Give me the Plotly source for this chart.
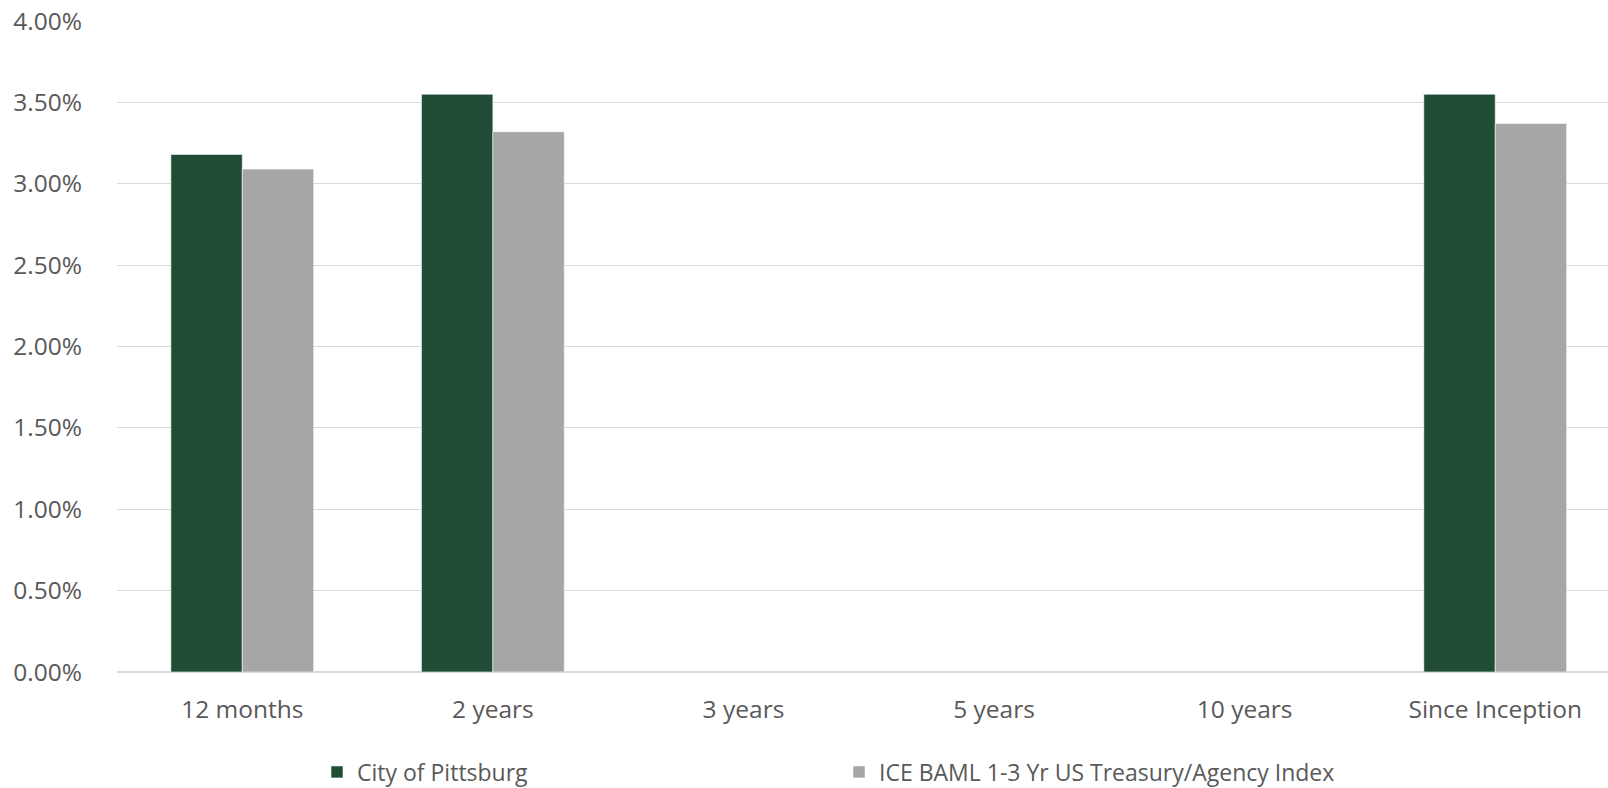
import plotly.graph_objects as go

# Annualized returns by period (percent)
categories = ["12 months", "2 years", "3 years", "5 years", "10 years", "Since Inception"]
city_returns = [3.18, 3.55, None, None, None, 3.55]
index_returns = [3.09, 3.32, None, None, None, 3.37]
y_ticks = [0, 0.5, 1.0, 1.5, 2.0, 2.5, 3.0, 3.5, 4.0]

series_names = ["City of Pittsburg", "ICE BAML 1-3 Yr US Treasury/Agency Index"]
series_colors = ["#214C36", "#A6A6A6"]

W, H = 1608, 788
FONT = "Open Sans"
TEXT = "#595959"

fig = go.Figure()
for name, vals, color in zip(series_names, [city_returns, index_returns], series_colors):
    fig.add_trace(go.Bar(
        x=categories, y=vals, name=name,
        marker=dict(color=color, line=dict(color="rgba(255,255,255,0.7)", width=0.8)),
        hoverinfo="x+y",
    ))

fig.update_layout(
    width=W, height=H,
    margin=dict(l=117, r=0, t=21, b=116),
    paper_bgcolor="white", plot_bgcolor="white",
    barmode="group", bargap=0.43, bargroupgap=0,
    font=dict(family=FONT, size=24, color=TEXT),
    showlegend=True,
    legend=dict(
        orientation="h",
        xref="container", yref="container",
        x=317 / W, y=1 - 772 / H, xanchor="left", yanchor="middle",
        entrywidth=477, entrywidthmode="pixels",
        font=dict(family=FONT, size=23, color=TEXT),
        bgcolor="rgba(0,0,0,0)",
    ),
)

fig.update_xaxes(
    type="category",
    range=[-0.5, 5.45],
    showgrid=False, showline=False, zeroline=False,
    ticks="outside", ticklen=16, tickcolor="rgba(0,0,0,0)",
    tickfont=dict(family=FONT, size=24.5, color=TEXT),
    fixedrange=True,
)
fig.update_yaxes(
    range=[0, 4.0],
    tickvals=y_ticks,
    ticktext=[f"{v:.2f}%" for v in y_ticks],
    showgrid=True, gridcolor="#D9D9D9", gridwidth=1.3,
    zeroline=True, zerolinecolor="#D9D9D9", zerolinewidth=1.5,
    showline=False,
    ticklabelstandoff=34,
    tickfont=dict(family=FONT, size=24.5, color=TEXT),
    fixedrange=True,
)

fig.write_html("out.html")
